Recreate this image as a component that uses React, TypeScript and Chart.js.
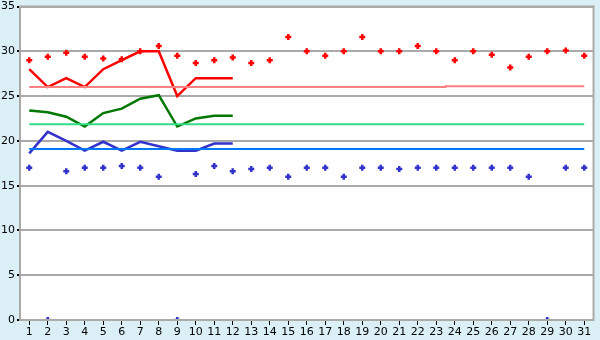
import React, { useEffect, useRef } from "react";
import { Chart, registerables } from "chart.js";
Chart.register(...registerables);

const days = Array.from({ length: 31 }, (_, i) => String(i + 1));
const maxDots = [29.0, 29.4, 29.85, 29.4, 29.2, 29.1, 30.0, 30.6, 29.5, 28.7, 29.0, 29.3, 28.7, 29.0, 31.6, 30.0, 29.5, 30.0, 31.6, 30.0, 30.0, 30.6, 30.0, 29.0, 30.0, 29.6, 28.2, 29.4, 30.0, 30.1, 29.5];
const minDots = [17.0, 0, 16.6, 17.0, 17.0, 17.2, 17.0, 16.0, 0, 16.3, 17.2, 16.6, 16.85, 17.0, 16.0, 17.0, 17.0, 16.0, 17.0, 17.0, 16.85, 17.0, 17.0, 17.0, 17.0, 17.0, 17.0, 16.0, 0, 17.0, 17.0];
const redLine = [28, 26, 27, 26, 28, 29, 30, 30, 25, 27, 27, 27];
const greenLine = [23.4, 23.2, 22.7, 21.6, 23.1, 23.6, 24.7, 25.1, 21.6, 22.5, 22.8, 22.8];
const blueLine = [18.6, 21.0, 20.0, 18.9, 19.9, 18.9, 19.9, 19.4, 18.9, 18.9, 19.7, 19.7];
const pinkAvg = [26, 26, 26, 26, 26, 26, 26, 26, 26, 26, 26, 26, 26, 26, 26, 26, 26, 26, 26, 26, 26, 26, 26, 26.1, 26.1, 26.1, 26.1, 26.1, 26.1, 26.1, 26.1];
const greenAvg = Array(31).fill(21.85);
const blueAvg = Array(31).fill(19.1);
const yTicks = [0, 5, 10, 15, 20, 25, 30, 35];

export default function App() {
  const ref = useRef<HTMLCanvasElement>(null);
  useEffect(() => {
    document.body.style.margin = "0";
    const bgPlugin = {
      id: "bg",
      beforeDraw(chart: any) {
        const { ctx, chartArea: a } = chart;
        ctx.save();
        ctx.fillStyle = "#daeff6";
        ctx.fillRect(0, 0, chart.width, chart.height);
        ctx.fillStyle = "#ffffff";
        ctx.fillRect(a.left, a.top, a.right - a.left, a.bottom - a.top);
        ctx.restore();
      },
      afterDatasetsDraw(chart: any) {
        const { ctx, chartArea: a } = chart;
        ctx.save();
        ctx.strokeStyle = "#aaaaaa";
        ctx.lineWidth = 2;
        ctx.strokeRect(a.left, a.top, a.right - a.left, a.bottom - a.top);
        ctx.restore();
      },
    };
    const line = (data: number[], color: string, width: number, extra: any = {}) => ({
      type: "line" as const,
      data,
      borderColor: color,
      backgroundColor: color,
      borderWidth: width,
      pointRadius: 0,
      fill: false,
      tension: 0,
      ...extra,
    });
    const dots = (data: number[], color: string) => ({
      type: "line" as const,
      data,
      showLine: false,
      borderColor: color,
      backgroundColor: color,
      pointStyle: "cross",
      pointRadius: 3,
      pointBorderWidth: 2.5,
    });
    const chart = new Chart(ref.current!, {
      type: "line",
      data: {
        labels: days,
        datasets: [
          line(pinkAvg, "#ff8080", 2, { stepped: "middle" }),
          line(greenAvg, "#33dd88", 2),
          line(blueAvg, "#0077ff", 2),
          line(greenLine, "#007700", 2.5),
          line(blueLine, "#3333cc", 2.5),
          line(redLine, "#ff0000", 2.5),
          dots(maxDots, "#ff0000"),
          dots(minDots, "#3333cc"),
        ] as any,
      },
      options: {
        animation: false,
        responsive: false,
        layout: { padding: { top: 5, right: 5, left: 0, bottom: 0 } },
        plugins: { legend: { display: false }, tooltip: { enabled: false } },
        scales: {
          x: {
            offset: true,
            grid: { drawOnChartArea: false, drawTicks: true, tickLength: 5, color: "#000000", offset: false },
            border: { color: "#aaaaaa", width: 2 },
            ticks: { color: "#000", font: { family: "DejaVu Sans", size: 11 }, maxRotation: 0, autoSkip: false, padding: 1 },
            afterFit(s: any) { s.height = 20; s.paddingLeft = 0; s.paddingRight = 0; },
          },
          y: {
            min: 0,
            max: 35,
            afterBuildTicks(s: any) { s.ticks = yTicks.map((v) => ({ value: v })); },
            grid: { color: "#aaaaaa", lineWidth: 2, tickLength: 3, tickColor: "#000000" } as any,
            border: { color: "#aaaaaa", width: 2 },
            ticks: { color: "#000", font: { family: "DejaVu Sans", size: 11 }, padding: 2 },
            afterFit(s: any) { s.width = 20; s.paddingTop = 0; s.paddingBottom = 0; },
          },
        },
      },
      plugins: [bgPlugin],
    });
    return () => chart.destroy();
  }, []);
  return <canvas ref={ref} width={600} height={340} style={{ display: "block" }} />;
}
